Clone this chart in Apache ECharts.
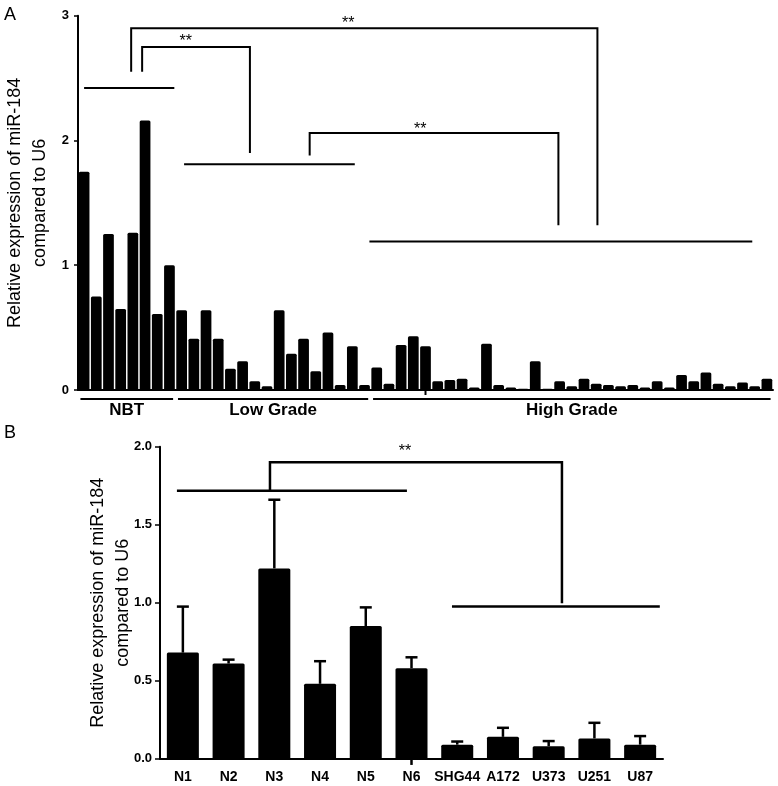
<!DOCTYPE html>
<html>
<head>
<meta charset="utf-8">
<script src="https://cdn.jsdelivr.net/npm/echarts@6/dist/echarts.min.js"></script>
<style>
html,body{margin:0;padding:0;background:#fff;}
#chart{width:778px;height:786px;}
</style>
</head>
<body>
<div id="chart"></div>
<script>
// ---------- Panel A data ----------
const groupNames = ['NBT', 'Low Grade', 'High Grade'];
const nbtValues = [1.75, 0.75, 1.25, 0.65, 1.26, 2.16, 0.61, 1.0];
const lowGradeValues = [0.64, 0.41, 0.64, 0.41, 0.17, 0.23, 0.07, 0.03, 0.64, 0.29, 0.41, 0.15, 0.46, 0.04, 0.35, 0.04];
const highGradeValues = [0.18, 0.05, 0.36, 0.43, 0.35, 0.07, 0.08, 0.09, 0.02, 0.37, 0.04, 0.02, 0.01, 0.23, 0.01, 0.07,
  0.03, 0.09, 0.05, 0.04, 0.03, 0.04, 0.02, 0.07, 0.02, 0.12, 0.07, 0.14, 0.05, 0.03, 0.06, 0.03, 0.09];
const yTicksA = [0, 1, 2, 3];

// ---------- Panel B data ----------
const cellLines = ['N1', 'N2', 'N3', 'N4', 'N5', 'N6', 'SHG44', 'A172', 'U373', 'U251', 'U87'];
const cellMeans = [0.68, 0.61, 1.22, 0.48, 0.85, 0.58, 0.09, 0.14, 0.08, 0.13, 0.09];
const cellErrors = [0.295, 0.025, 0.44, 0.145, 0.12, 0.07, 0.02, 0.058, 0.033, 0.10, 0.055];
const yTicksB = [0, 0.5, 1.0, 1.5, 2.0];

// significance annotations (x in sample-index units, y in data units)
const bracketsA = [
  [[0, 2.42], [7.4, 2.42]],
  [[8.2, 1.81], [22.2, 1.81]],
  [[23.4, 1.19], [54.8, 1.19]],
  [[3.86, 2.55], [3.86, 2.9], [42.1, 2.9], [42.1, 1.32]],
  [[4.76, 2.55], [4.76, 2.75], [13.6, 2.75], [13.6, 1.9]],
  [[18.5, 1.88], [18.5, 2.06], [38.9, 2.06], [38.9, 1.32]],
  [[28, 0], [28, -0.04]]
];
const starsA = [[8.33, 2.79], [21.66, 2.94], [27.56, 2.09]];
const bracketsB = [
  [[-0.13, 1.718], [4.9, 1.718]],
  [[1.905, 1.718], [1.905, 1.9], [8.29, 1.9], [8.29, 0.997]],
  [[5.885, 0.975], [10.43, 0.975]],
  [[5, 0], [5, -0.04]]
];
const starsB = [[4.86, 1.97]];

// ---------- build ----------
const valuesA = nbtValues.concat(lowGradeValues, highGradeValues);
const groupSizes = [nbtValues.length, lowGradeValues.length, highGradeValues.length];
const categoriesA = [];
const groupSpans = [];
let k = 0;
groupSizes.forEach((n, g) => {
  groupSpans.push([k, k + n - 1, groupNames[g]]);
  for (let i = 0; i < n; i++) categoriesA.push(groupNames[g] + ' ' + (i + 1));
  k += n;
});
const nA = valuesA.length;

const FONT = '"Liberation Sans", Arial, Helvetica, sans-serif';

function annotSeries(xIdx, yIdx, brackets, stars, lw, groups) {
  const items = [];
  brackets.forEach(b => items.push({ kind: 'line', pts: b }));
  stars.forEach(s => items.push({ kind: 'star', pt: s }));
  if (groups) {
    groups.forEach(g => items.push({ kind: 'group', g }));
  }
  return {
    type: 'custom',
    xAxisIndex: xIdx,
    yAxisIndex: yIdx,
    silent: true,
    clip: false,
    z: 5,
    data: items.map((it, i) => [i, 0]),
    encode: { x: 0, y: 1 },
    renderItem: function (params, api) {
      const it = items[params.dataIndex];
      if (it.kind === 'line') {
        return {
          type: 'polyline',
          shape: { points: it.pts.map(p => api.coord(p)) },
          style: { stroke: '#000', lineWidth: lw, fill: null }
        };
      }
      if (it.kind === 'star') {
        const p = api.coord(it.pt);
        return {
          type: 'text', x: p[0], y: p[1],
          style: { text: '**', font: '16px ' + FONT, fill: '#000', textAlign: 'center', textVerticalAlign: 'middle' }
        };
      }
      const g = it.g;
      const a = api.coord([g[0] - 0.5 + 0.2, -0.072]);
      const b = api.coord([g[1] + 0.5 - 0.2, -0.072]);
      const c = api.coord([(g[0] + g[1]) / 2, -0.165]);
      return {
        type: 'group',
        children: [
          { type: 'line', shape: { x1: a[0], y1: a[1], x2: b[0], y2: b[1] }, style: { stroke: '#000', lineWidth: 2 } },
          { type: 'text', x: c[0], y: c[1], style: { text: g[2], font: 'bold 17px ' + FONT, fill: '#000', textAlign: 'center', textVerticalAlign: 'middle' } }
        ]
      };
    }
  };
}

const chart = echarts.init(document.getElementById('chart'), null, { renderer: 'canvas' });
const axisLineStyle = { color: '#000', width: 2 };
const option = {
  animation: false,
  backgroundColor: '#fff',
  textStyle: { fontFamily: FONT },
  grid: [
    { left: 78, top: 15.7, width: 695, height: 374.3, containLabel: false, outerBoundsMode: 'none' },
    { left: 160, top: 446.7, width: 503, height: 312, containLabel: false, outerBoundsMode: 'none' }
  ],
  xAxis: [
    { gridIndex: 0, type: 'category', data: categoriesA, axisLine: { onZero: false, lineStyle: axisLineStyle }, axisTick: { show: false }, axisLabel: { show: false } },
    { gridIndex: 0, type: 'value', min: -0.5, max: nA - 0.5, show: false },
    { gridIndex: 1, type: 'category', data: cellLines, axisLine: { onZero: false, lineStyle: axisLineStyle }, axisTick: { show: false },
      axisLabel: { color: '#000', fontWeight: 'bold', fontSize: 14, margin: 11, fontFamily: FONT, interval: 0 } },
    { gridIndex: 1, type: 'value', min: -0.5, max: cellLines.length - 0.5, show: false }
  ],
  yAxis: [
    { gridIndex: 0, type: 'value', min: yTicksA[0], max: yTicksA[yTicksA.length - 1], interval: 1,
      axisLine: { show: true, onZero: false, lineStyle: axisLineStyle }, axisTick: { show: true, length: 4, lineStyle: { color: '#000', width: 1.5 } },
      splitLine: { show: false },
      axisLabel: { color: '#000', fontWeight: 'bold', fontSize: 13, margin: 9, fontFamily: FONT },
      name: 'Relative expression of miR-184\ncompared to U6', nameLocation: 'middle', nameRotate: 90, nameGap: 25, nameMoveOverlap: false,
      nameTextStyle: { color: '#000', fontSize: 18, lineHeight: 25, fontFamily: FONT } },
    { gridIndex: 1, type: 'value', min: yTicksB[0], max: yTicksB[yTicksB.length - 1], interval: 0.5,
      axisLine: { show: true, onZero: false, lineStyle: axisLineStyle }, axisTick: { show: true, length: 5, lineStyle: { color: '#000', width: 1.5 } },
      splitLine: { show: false },
      axisLabel: { color: '#000', fontWeight: 'bold', fontSize: 13, margin: 8, fontFamily: FONT, formatter: v => v.toFixed(1) },
      name: 'Relative expression of miR-184\ncompared to U6', nameLocation: 'middle', nameRotate: 90, nameGap: 24, nameMoveOverlap: false,
      nameTextStyle: { color: '#000', fontSize: 18, lineHeight: 25, fontFamily: FONT } }
  ],
  series: [
    { type: 'bar', xAxisIndex: 0, yAxisIndex: 0, data: valuesA, barWidth: '88%',
      itemStyle: { color: '#000', borderRadius: [1.5, 1.5, 0, 0] }, silent: true },
    { type: 'bar', xAxisIndex: 2, yAxisIndex: 1, data: cellMeans, barWidth: '70%',
      itemStyle: { color: '#000', borderRadius: [1.5, 1.5, 0, 0] }, silent: true },
    { type: 'custom', xAxisIndex: 2, yAxisIndex: 1, silent: true, z: 4,
      data: cellMeans.map((m, i) => [i, m, m + cellErrors[i]]),
      encode: { x: 0, y: [1, 2] },
      renderItem: function (params, api) {
        const base = api.coord([api.value(0), api.value(1)]);
        const top = api.coord([api.value(0), api.value(2)]);
        const hw = 6;
        return {
          type: 'group',
          children: [
            { type: 'line', shape: { x1: base[0], y1: base[1], x2: top[0], y2: top[1] }, style: { stroke: '#000', lineWidth: 2.5 } },
            { type: 'line', shape: { x1: top[0] - hw, y1: top[1], x2: top[0] + hw, y2: top[1] }, style: { stroke: '#000', lineWidth: 2.5 } }
          ]
        };
      }
    },
    annotSeries(1, 0, bracketsA, starsA, 2, groupSpans),
    annotSeries(3, 1, bracketsB, starsB, 2.5, null)
  ],
  graphic: [
    { type: 'text', left: 4, top: 6, style: { text: 'A', font: '18px ' + FONT, fill: '#000' } },
    { type: 'text', left: 4, top: 424, style: { text: 'B', font: '18px ' + FONT, fill: '#000' } }
  ]
};
chart.setOption(option);
</script>
</body>
</html>
